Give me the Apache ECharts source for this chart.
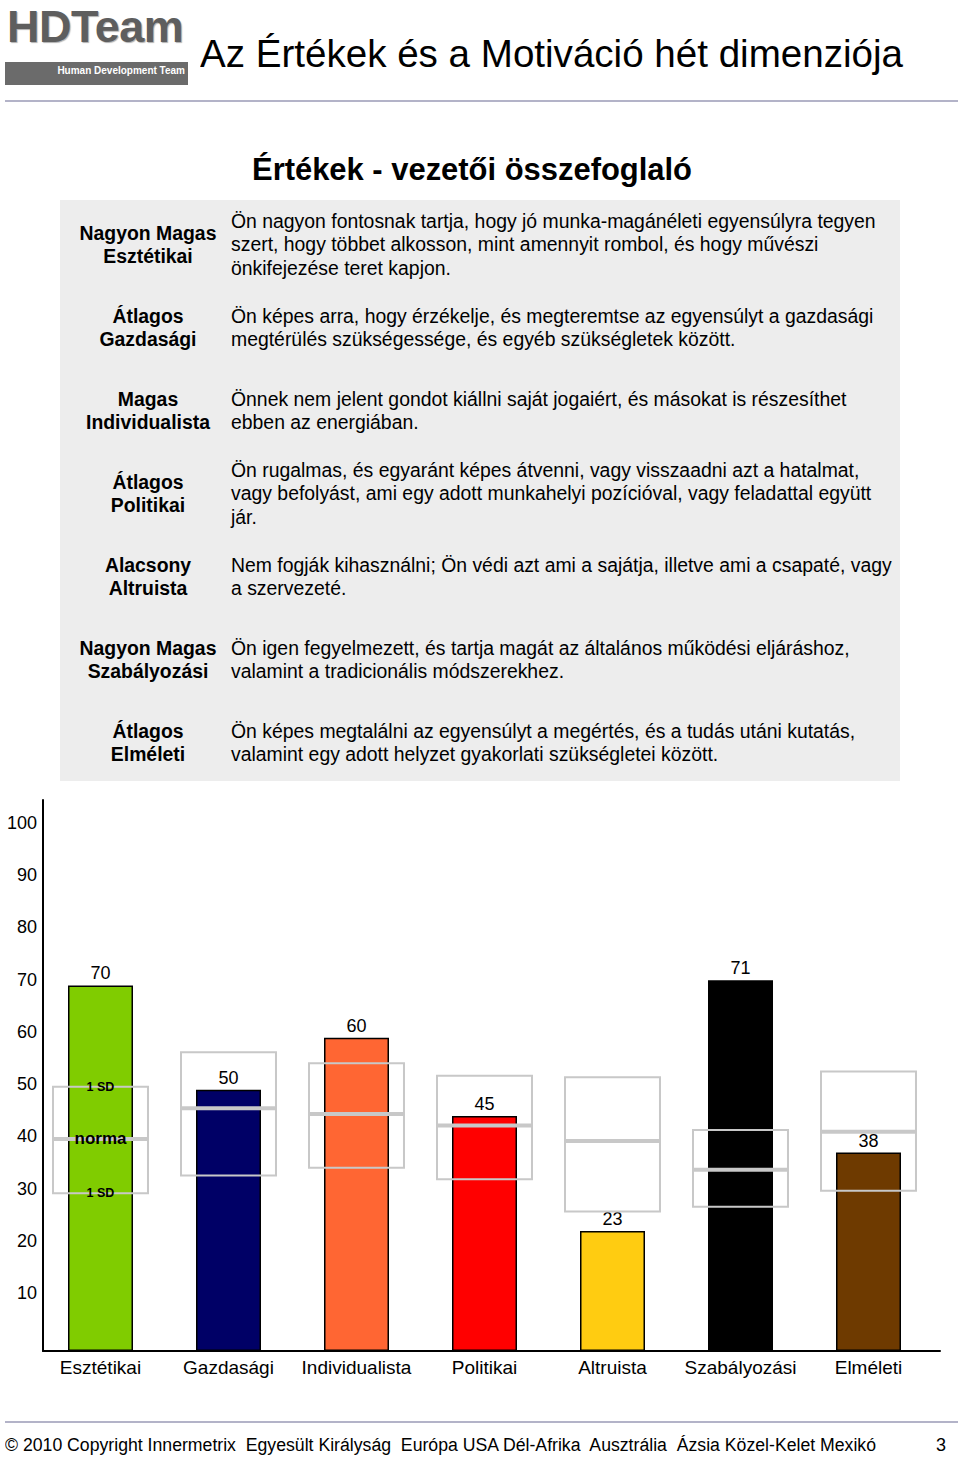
<!DOCTYPE html>
<html>
<head>
<meta charset="utf-8">
<script src="https://cdn.jsdelivr.net/npm/echarts@6/dist/echarts.min.js"></script>
<style>
  html, body { margin: 0; padding: 0; background: #fff; }
  #page { position: relative; width: 960px; height: 1457px; overflow: hidden;
          font-family: "Liberation Sans", Arial, Helvetica, sans-serif; color: #000; }
  .abs { position: absolute; white-space: nowrap; }
  #logo { left: 7px; top: 4px; font-size: 45px; font-weight: bold; letter-spacing: -0.5px;
          line-height: 1; color: #5e5e5e; text-shadow: 1px 1px 1px #b0b0b0; }
  #logobar { left: 5px; top: 62px; width: 183px; height: 23px; background: #6b6b6b; }
  #logotxt { right: 3px; top: 4px; font-size: 10px; font-weight: bold; color: #fff; line-height: 10px; }
  #title { left: 200px; top: 34.5px; font-size: 38.5px; line-height: 1; transform-origin: 0 50%; }
  .hline { position: absolute; left: 5px; width: 953px; height: 2px; background: #b3b3c8; }
  #subtitle { left: 252px; top: 154px; font-size: 31px; font-weight: bold; line-height: 1; transform-origin: 0 50%; }
  #table { position: absolute; left: 60px; top: 200px; width: 840px; height: 581px; background: #ededed; }
  .row { position: absolute; left: 0; width: 840px; height: 83px; display: flex; align-items: center; }
  .lab { position: absolute; left: -12px; width: 200px; text-align: center; font-weight: bold;
         font-size: 19.4px; line-height: 23.5px; white-space: nowrap; }
  .txt { position: absolute; left: 171px; font-size: 19.4px; line-height: 23.3px; white-space: nowrap; }
  #chart { position: absolute; left: 0; top: 780px; width: 960px; height: 620px; }
  #footer { left: 5px; top: 1435px; font-size: 18px; line-height: 20px; transform-origin: 0 50%; }
  #pnum { left: 936px; top: 1435px; font-size: 18px; line-height: 20px; }
</style>
</head>
<body>
<div id="page">
  <div id="logo" class="abs">HDTeam</div>
  <div id="logobar" class="abs"><div id="logotxt" class="abs">Human Development Team</div></div>
  <div id="title" class="abs">Az Értékek és a Motiváció hét dimenziója</div>
  <div class="hline" style="top:100px"></div>
  <div id="subtitle" class="abs">Értékek - vezetői összefoglaló</div>
  <div id="table"></div>
  <div id="chart"></div>
  <div class="hline" style="top:1421px"></div>
  <div id="footer" class="abs">© 2010 Copyright Innermetrix&nbsp; Egyesült Királyság&nbsp; Európa USA Dél-Afrika&nbsp; Ausztrália&nbsp; Ázsia Közel-Kelet Mexikó</div>
  <div id="pnum" class="abs">3</div>
</div>
<script>
// ---------- data ----------
const categories = ['Esztétikai', 'Gazdasági', 'Individualista', 'Politikai', 'Altruista', 'Szabályozási', 'Elméleti'];
const scores     = [70, 50, 60, 45, 23, 71, 38];
const barColors  = ['#80cc00', '#000066', '#ff6633', '#ff0000', '#ffcc11', '#000000', '#6e3a00'];
const normTop    = [50.6, 57.2, 55.1, 52.7, 52.4, 42.3, 53.5];
const normMid    = [40.6, 46.5, 45.4, 43.2, 40.2, 34.7, 42.0];
const normBottom = [30.2, 33.6, 35.1, 32.9, 26.7, 27.6, 30.7];
const yTicks     = [10, 20, 30, 40, 50, 60, 70, 80, 90, 100];

const levelLabels = [
  'Nagyon Magas<br>Esztétikai',
  'Átlagos<br>Gazdasági',
  'Magas<br>Individualista',
  'Átlagos<br>Politikai',
  'Alacsony<br>Altruista',
  'Nagyon Magas<br>Szabályozási',
  'Átlagos<br>Elméleti'
];
const descriptions = [
  'Ön nagyon fontosnak tartja, hogy jó munka-magánéleti egyensúlyra tegyen<br>szert, hogy többet alkosson, mint amennyit rombol, és hogy művészi<br>önkifejezése teret kapjon.',
  'Ön képes arra, hogy érzékelje, és megteremtse az egyensúlyt a gazdasági<br>megtérülés szükségessége, és egyéb szükségletek között.',
  'Önnek nem jelent gondot kiállni saját jogaiért, és másokat is részesíthet<br>ebben az energiában.',
  'Ön rugalmas, és egyaránt képes átvenni, vagy visszaadni azt a hatalmat,<br>vagy befolyást, ami egy adott munkahelyi pozícióval, vagy feladattal együtt<br>jár.',
  'Nem fogják kihasználni; Ön védi azt ami a sajátja, illetve ami a csapaté, vagy<br>a szervezeté.',
  'Ön igen fegyelmezett, és tartja magát az általános működési eljáráshoz,<br>valamint a tradicionális módszerekhez.',
  'Ön képes megtalálni az egyensúlyt a megértés, és a tudás utáni kutatás,<br>valamint egy adott helyzet gyakorlati szükségletei között.'
];

// ---------- table ----------
const table = document.getElementById('table');
levelLabels.forEach((l, i) => {
  const row = document.createElement('div');
  row.className = 'row';
  row.style.top = (i * 83 + 3.5) + 'px';
  const lab = document.createElement('div'); lab.className = 'lab'; lab.innerHTML = l;
  const txt = document.createElement('div'); txt.className = 'txt'; txt.innerHTML = descriptions[i];
  row.appendChild(lab); row.appendChild(txt);
  table.appendChild(row);
});

function fit(id, w) {
  const el = document.getElementById(id);
  const cur = el.getBoundingClientRect().width;
  if (cur > 0) el.style.transform = 'scaleX(' + (w / cur) + ')';
}
fit('title', 703);
fit('subtitle', 440);
fit('footer', 871);

// ---------- chart ----------
const YMAX = 105.5;
const chart = echarts.init(document.getElementById('chart'), null, { renderer: 'svg' });
const FONT = '"Liberation Sans", Arial, sans-serif';

const normData = categories.map((c, i) => [i, normTop[i], normMid[i], normBottom[i]]);

chart.setOption({
  animation: false,
  grid: [
    { left: 36.5, right: 27.5, top: 20, bottom: 49 },
    { left: 43, right: 20, top: 20, bottom: 49 }
  ],
  xAxis: [
    { type: 'category', gridIndex: 0, data: categories,
      axisLine: { show: false }, axisTick: { show: false },
      axisLabel: { color: '#000', fontSize: 19, fontFamily: FONT, margin: 7, interval: 0 } },
    { type: 'value', gridIndex: 1, min: 0, max: 1,
      axisLine: { show: true, lineStyle: { color: '#000', width: 2 } },
      axisTick: { show: false }, axisLabel: { show: false }, splitLine: { show: false } }
  ],
  yAxis: [
    { type: 'value', gridIndex: 0, min: 0, max: YMAX, show: false, splitLine: { show: false } },
    { type: 'value', gridIndex: 1, min: 0, max: YMAX, interval: 10,
      axisLine: { show: true, lineStyle: { color: '#000', width: 2 } },
      axisTick: { show: false }, splitLine: { show: false },
      axisLabel: { color: '#000', fontSize: 18, fontFamily: FONT, margin: 6,
        verticalAlign: 'bottom', lineHeight: 11.5,
        showMaxLabel: false,
        formatter: v => (yTicks.indexOf(v) >= 0 ? String(v) : '') } }
  ],
  series: [
    { type: 'bar', xAxisIndex: 0, yAxisIndex: 0, barWidth: 65, z: 2,
      data: scores.map((v, i) => ({ value: v, itemStyle: { color: barColors[i] } })),
      itemStyle: { borderColor: '#000', borderWidth: 1.5 },
      label: { show: true, position: 'top', distance: 3, color: '#000', fontSize: 18, fontFamily: FONT } },
    { type: 'custom', xAxisIndex: 0, yAxisIndex: 0, z: 5,
      data: normData,
      encode: { x: 0, y: [1, 2, 3] },
      renderItem: function (params, api) {
        const idx = api.value(0);
        const cx = api.coord([idx, 0])[0];
        const w = api.size([1, 0])[0] * 0.742;
        const yt = api.coord([idx, api.value(1)])[1];
        const ym = api.coord([idx, api.value(2)])[1];
        const yb = api.coord([idx, api.value(3)])[1];
        const stroke = '#c8c8c8';
        const children = [
          { type: 'rect', shape: { x: cx - w / 2, y: yt, width: w, height: yb - yt },
            style: { fill: 'none', stroke: stroke, lineWidth: 2 } },
          { type: 'line', shape: { x1: cx - w / 2, y1: ym, x2: cx + w / 2, y2: ym },
            style: { stroke: stroke, lineWidth: 4 } }
        ];
        if (idx === 0) {
          const bf = 'bold 12.5px ' + FONT;
          children.push(
            { type: 'text', style: { text: '1 SD', x: cx, y: yt, align: 'center', verticalAlign: 'middle', font: bf, fill: '#000' } },
            { type: 'text', style: { text: 'norma', x: cx, y: ym, align: 'center', verticalAlign: 'middle', font: 'bold 17px ' + FONT, fill: '#000' } },
            { type: 'text', style: { text: '1 SD', x: cx, y: yb, align: 'center', verticalAlign: 'middle', font: bf, fill: '#000' } }
          );
        }
        return { type: 'group', children: children };
      } }
  ]
});
</script>
</body>
</html>
